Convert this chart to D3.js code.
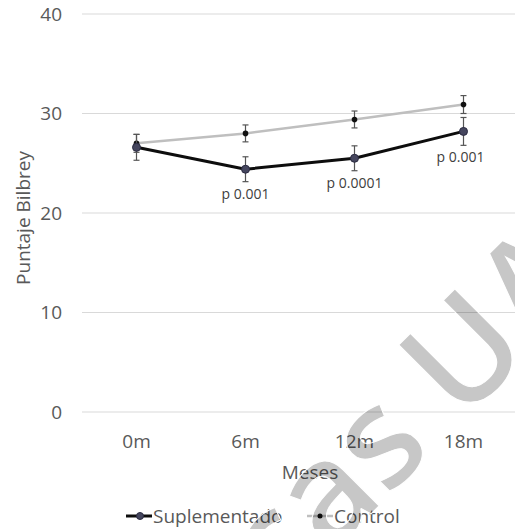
<!DOCTYPE html>
<html>
<head>
  <meta charset="utf-8">
  <script src="https://cdn.jsdelivr.net/npm/d3@7"></script>
  <style>
    body { margin: 0; background: #fff; }
    text { font-family: "Open Sans", "Noto Sans", sans-serif; }
  </style>
</head>
<body>
<script>
  // data
  var months = ["0m", "6m", "12m", "18m"];
  var suplementado = [26.6, 24.4, 25.5, 28.2];
  var suplementadoErr = [1.3, 1.25, 1.25, 1.4];
  var control = [27.0, 28.0, 29.4, 30.9];
  var controlErr = [0.9, 0.85, 0.85, 0.9];
  var pLabels = ["", "p 0.001", "p 0.0001", "p 0.001"];
  var yTicks = [0, 10, 20, 30, 40];

  var W = 515, H = 529;

  var svg = d3.select("body").append("svg")
    .attr("width", W)
    .attr("height", H);

  var x = d3.scaleBand().domain(months).range([82, 518]).padding(0);
  var y = d3.scaleLinear().domain([0, 40]).range([412, 14]);
  var cx = function(m) { return x(m) + x.bandwidth() / 2; };

  // gridlines + y labels
  svg.append("g").selectAll("line")
    .data(yTicks).enter().append("line")
    .attr("x1", 82).attr("x2", W)
    .attr("y1", function(d) { return y(d); })
    .attr("y2", function(d) { return y(d); })
    .attr("stroke", "#d9d9d9")
    .attr("stroke-width", 1.2);

  svg.append("g").selectAll("text")
    .data(yTicks).enter().append("text")
    .attr("x", 62)
    .attr("y", function(d) { return y(d); })
    .attr("dy", "0.36em")
    .attr("text-anchor", "end")
    .attr("fill", "#595959")
    .style("font-size", "19px")
    .text(function(d) { return d; });

  // x labels
  svg.append("g").selectAll("text")
    .data(months).enter().append("text")
    .attr("x", function(d) { return cx(d); })
    .attr("y", 441)
    .attr("dy", "0.36em")
    .attr("text-anchor", "middle")
    .attr("fill", "#595959")
    .style("font-size", "19px")
    .text(function(d) { return d; });

  svg.append("text")
    .attr("x", 310).attr("y", 472).attr("dy", "0.36em")
    .attr("text-anchor", "middle")
    .attr("fill", "#595959")
    .style("font-size", "19px")
    .text("Meses");

  svg.append("text")
    .attr("transform", "translate(23,218) rotate(-90)")
    .attr("dy", "0.36em")
    .attr("text-anchor", "middle")
    .attr("fill", "#595959")
    .style("font-size", "19px")
    .text("Puntaje Bilbrey");

  function drawSeries(vals, errs, color, width, r, mfill) {
    var g = svg.append("g");
    var line = d3.line()
      .x(function(d, i) { return cx(months[i]); })
      .y(function(d) { return y(d); });
    g.append("path").datum(vals)
      .attr("d", line)
      .attr("fill", "none")
      .attr("stroke", color)
      .attr("stroke-width", width)
      .attr("stroke-linejoin", "round");

    var eb = g.selectAll(".err").data(vals).enter().append("g");
    eb.append("line")
      .attr("x1", function(d, i) { return cx(months[i]); })
      .attr("x2", function(d, i) { return cx(months[i]); })
      .attr("y1", function(d, i) { return y(d + errs[i]); })
      .attr("y2", function(d, i) { return y(d - errs[i]); });
    eb.append("line")
      .attr("x1", function(d, i) { return cx(months[i]) - 3; })
      .attr("x2", function(d, i) { return cx(months[i]) + 3; })
      .attr("y1", function(d, i) { return y(d + errs[i]); })
      .attr("y2", function(d, i) { return y(d + errs[i]); });
    eb.append("line")
      .attr("x1", function(d, i) { return cx(months[i]) - 3; })
      .attr("x2", function(d, i) { return cx(months[i]) + 3; })
      .attr("y1", function(d, i) { return y(d - errs[i]); })
      .attr("y2", function(d, i) { return y(d - errs[i]); });
    eb.selectAll("line").attr("stroke", "#555").attr("stroke-width", 1.2);

    g.selectAll("circle").data(vals).enter().append("circle")
      .attr("cx", function(d, i) { return cx(months[i]); })
      .attr("cy", function(d) { return y(d); })
      .attr("r", r)
      .attr("fill", mfill)
      .attr("stroke", mfill === "#111" ? "none" : "#2a2a40")
      .attr("stroke-width", 1);
  }

  drawSeries(control, controlErr, "#bfbfbf", 2.5, 2.8, "#111");
  drawSeries(suplementado, suplementadoErr, "#0d0d0d", 3, 4, "#45465e");

  // p-value labels under the Suplementado points
  svg.append("g").selectAll("text")
    .data(pLabels).enter().append("text")
    .attr("x", function(d, i) { return cx(months[i]) + (i === 3 ? -3 : 0); })
    .attr("y", function(d, i) { return y(suplementado[i] - suplementadoErr[i]) + 17; })
    .attr("text-anchor", "middle")
    .attr("fill", "#404040")
    .style("font-size", "14px")
    .text(function(d) { return d; });

  // legend
  var lg = svg.append("g");
  lg.append("line").attr("x1", 126).attr("x2", 152).attr("y1", 516).attr("y2", 516)
    .attr("stroke", "#0d0d0d").attr("stroke-width", 3);
  lg.append("circle").attr("cx", 140).attr("cy", 516).attr("r", 3.5)
    .attr("fill", "#45465e").attr("stroke", "#2a2a40");
  lg.append("text").attr("x", 153).attr("y", 516).attr("dy", "0.36em")
    .attr("fill", "#595959").style("font-size", "19px").text("Suplementado");
  lg.append("line").attr("x1", 307).attr("x2", 333).attr("y1", 516).attr("y2", 516)
    .attr("stroke", "#bfbfbf").attr("stroke-width", 2.5);
  lg.append("circle").attr("cx", 320).attr("cy", 516).attr("r", 2.5).attr("fill", "#111");
  lg.append("text").attr("x", 334).attr("y", 516).attr("dy", "0.36em")
    .attr("fill", "#595959").style("font-size", "19px").text("Control");

  // watermark over the chart
  svg.append("text")
    .attr("transform", "translate(-86,971) rotate(-45)")
    .attr("fill", "#000")
    .attr("fill-opacity", 0.22)
    .attr("stroke", "#fff")
    .attr("stroke-width", 1)
    .style("font-size", "140px")
    .style("font-weight", "600")
    .text("Bibliotecas UA");
</script>
</body>
</html>
